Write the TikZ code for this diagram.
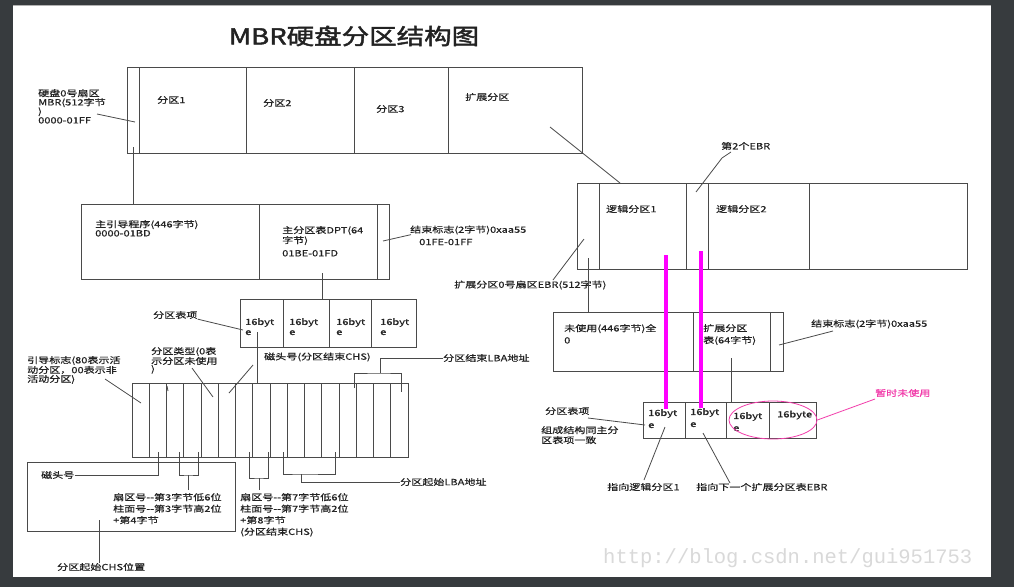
\documentclass[tikz,border=0pt]{standalone}
\usepackage{fontspec}
\usetikzlibrary{shapes.geometric}
\newfontfamily\cjk[FakeStretch=1.3,FakeBold=0.6]{Noto Sans CJK SC}
\newfontfamily\cjktitle[FakeStretch=1.25,FakeBold=2]{Noto Sans CJK SC}
\newfontfamily\wmfont{Liberation Mono}
\definecolor{framegray}{HTML}{373B3E}
\definecolor{ink}{HTML}{222222}
\definecolor{rulegray}{HTML}{4A4A4A}
\definecolor{hotpink}{HTML}{FF00FF}
\definecolor{notepink}{HTML}{F23CAA}
\definecolor{markgray}{HTML}{D9D9D9}

\begin{document}
\begin{tikzpicture}[x=1pt, y=-1pt,
  box/.style={draw=rulegray, line width=1pt, inner sep=0pt, outer sep=0pt, anchor=north west},
  txt/.style={font=\cjk\fontsize{8.5}{9}\selectfont, text=ink, inner sep=0pt, align=left, anchor=west},
  tight/.style={txt, anchor=north west, font=\cjk\fontsize{8.5}{7.8}\selectfont},
  loose/.style={txt, anchor=north west, font=\cjk\fontsize{8.5}{11.5}\selectfont},
  lead/.style={draw=rulegray, line width=0.8pt},
  hot/.style={draw=hotpink, line width=4pt}]
\useasboundingbox (0,0) rectangle (1014,587);
\fill[framegray] (0,0) rectangle (1014,587);
\fill[white] (13,5) rectangle (991,577);
\draw[gray!60, line width=1.5pt] (13,5.5) -- (991,5.5);

\node[font=\cjktitle\fontsize{22}{24}\selectfont, text=ink, inner sep=0pt] (title) at (354,36) {MBR硬盘分区结构图};

% whole disk
\foreach \n/\a/\b in {0/127/139,1/139/246,2/246/354,3/354/448,4/448/582}
  \node[box, minimum width={(\b-\a)*1pt}, minimum height=86pt] (mbr\n) at (\a,67) {};
\node[txt] (p1lbl) at (157,100) {分区1};
\node[txt] (p2lbl) at (263,103) {分区2};
\node[txt] (p3lbl) at (376,109) {分区3};
\node[txt] (extplbl) at (465,97) {扩展分区};
\node[txt, anchor=north west] (disklbl) at (38,89) {硬盘0号扇区\\MBR(512字节\\)\\0000-01FF};
\coordinate (disklead) at (97,114);
\coordinate (diskpt) at (135,122);
\draw[lead] (disklead) -- (diskpt);

% MBR sector
\foreach \n/\a/\b in {1/81/259,2/259/377,3/377/389}
  \node[box, minimum width={(\b-\a)*1pt}, minimum height=75pt] (boot\n) at (\a,204) {};
\coordinate (mbrtap) at (133,147);
\draw[lead] (mbrtap) -- (mbrtap |- boot1.north);
\node[txt, anchor=north west] (bootlbl) at (95,220) {主引导程序(446字节)\\0000-01BD};
\node[txt, anchor=north west] (dptlbl) at (282,226) {主分区表DPT(64\\[1pt]字节)\\[4pt]01BE-01FD};
\node[txt] (endlbl) at (410,230) {结束标志(2字节)0xaa55};
\node[txt] (endaddr) at (419,242) {01FE-01FF};
\coordinate (endpt) at (383,241);
\draw[lead] (endpt) -- ([xshift=1pt]endlbl.south west);

% partition table
\foreach \n/\a/\b in {1/240/283,2/283/329,3/329/371,4/371/416}
  \node[box, minimum width={(\b-\a)*1pt}, minimum height=48pt] (dpt\n) at (\a,299) {};
\coordinate (dpttap) at (322,273);
\draw[lead] (dpttap) -- (dpttap |- dpt1.north);
\foreach \n/\x in {1/245,2/289,3/336,4/380}
  \node[txt, anchor=north west, font=\cjk\fontsize{8.5}{10}\selectfont] (dptt\n) at (\x,318) {16byt\\e};
\node[txt] (tablbl) at (153,315) {分区表项};
\coordinate (tabpt) at (243,330);
\draw[lead] (tablbl.south east) -- (tabpt);

% 16 bytes of one entry
\foreach \i in {1,...,16}
  \node[box, minimum width=17.25pt, minimum height=74pt] (ent\i) at ({132+(\i-1)*17.25},383) {};
\coordinate (enttap) at (257,332);
\draw[lead] (enttap) -- (enttap |- ent1.north);
\node[tight] (bootflag) at (27,356) {引导标志(80表示活\\动分区，00表示非\\活动分区)};
\coordinate (bootflagpt) at (141,403);
\draw[lead] (105,379) -- (bootflagpt);
\node[tight] (typelbl) at (151,347) {分区类型(0表\\示分区未使用\\)};
\coordinate (typept) at (213,397);
\draw[lead] (192,368) -- (typept);
\draw[lead] (167,386) -- (168,391);
\node[txt] (headendlbl) at (264,357) {磁头号(分区结束CHS)};
\coordinate (headendpt) at (229,393);
\draw[lead] (253,365) -- (headendpt);
\node[txt] (lbaendlbl) at (443,358) {分区结束LBA地址};
\coordinate (lbaknee) at (380,373);
\coordinate (lbaL) at (354,388);
\coordinate (lbaR) at (401,392);
\draw[lead] (lbaendlbl.west) -| (lbaknee);
\draw[lead] (lbaL) |- (lbaknee) -| (lbaR);

% under the entry
\node[box, minimum width=208pt, minimum height=69pt] (chsbox) at (27,462) {};
\node[txt] (headlbl) at (41,475) {磁头号};
\coordinate (headtap) at (158,452);
\draw[lead] (headlbl.east) -| (headtap);
\coordinate (chsmid) at (188,475);
\draw[lead] (179,452) |- (chsmid) -| (198,452);
\draw[lead] (chsmid) -- ++(0,15);
\node[loose] (chsinfo) at (113,493) {扇区号--第3字节低6位\\柱面号--第3字节高2位\\+第4字节};
\node[txt] (chsposlbl) at (57,567) {分区起始CHS位置};
\coordinate (chstap) at (99,520);
\draw[lead] (chstap) -- (chstap |- chsposlbl.north);
\coordinate (chsendmid) at (259,478);
\draw[lead] (249,452) |- (chsendmid) -| (268,452);
\draw[lead] (chsendmid) -- ++(0,12);
\node[loose] (chsendinfo) at (240,493) {扇区号--第7字节低6位\\柱面号--第7字节高2位\\+第8字节\\(分区结束CHS)};
\coordinate (lbastartmid) at (301,474);
\draw[lead] (283,452) |- (lbastartmid) -| (335,452);
\node[txt] (lbastartlbl) at (400,482) {分区起始LBA地址};
\draw[lead] (lbastartmid) |- (lbastartlbl.west);

% extended partition
\foreach \n/\a/\b in {0/577/599,1/599/686,2/686/708,3/708/809,4/809/967}
  \node[box, minimum width={(\b-\a)*1pt}, minimum height=86pt] (log\n) at (\a,183) {};
\node[txt] (log1lbl) at (606,209) {逻辑分区1};
\node[txt] (log2lbl) at (716,209) {逻辑分区2};
\coordinate (exttap) at (550,127);
\coordinate (extpt) at (620,183);
\draw[lead] (exttap) -- (extpt);
\node[txt] (ebr2lbl) at (721,146) {第2个EBR};
\coordinate (ebr2pt) at (696,192);
\draw[lead] (731,152) -- (722,158) -- (ebr2pt);
\node[txt] (ebr0lbl) at (454,285) {扩展分区0号扇区EBR(512字节)};
\coordinate (ebr0pt) at (584,239);
\draw[lead] (553,280) -- (ebr0pt);

% EBR sector
\foreach \n/\a/\b in {1/553/693,2/693/770,3/770/783}
  \node[box, minimum width={(\b-\a)*1pt}, minimum height=59pt] (ebr\n) at (\a,312) {};
\coordinate (ebrtap) at (588,258);
\draw[lead] (ebrtap) -- (ebrtap |- ebr1.north);
\node[txt, anchor=north west, font=\cjk\fontsize{8.5}{12}\selectfont] (freelbl) at (564,324) {未使用(446字节)全\\0};
\node[txt, anchor=north west, font=\cjk\fontsize{8.5}{12}\selectfont] (ebrtablbl) at (703,324) {扩展分区\\表(64字节)};
\node[txt] (ebrendlbl) at (811,324) {结束标志(2字节)0xaa55};
\coordinate (ebrendpt) at (779,345);
\draw[lead] (ebrendpt) -- (833,331);

% EBR table
\foreach \n/\a/\b in {1/643/685,2/685/726,3/726/769,4/769/816}
  \node[box, minimum width={(\b-\a)*1pt}, minimum height=36pt] (slot\n) at (\a,402) {};
\coordinate (slottap) at (731,358);
\draw[lead] (slottap) -- (slottap |- slot1.north);
\foreach \n/\x/\y in {1/648/409,2/690/408,3/733/412}
  \node[txt, anchor=north west, font=\cjk\fontsize{8.5}{12}\selectfont] (slott\n) at (\x,\y) {16byt\\e};
\node[txt] (slott4) at (777,415) {16byte};
\node[draw=notepink, line width=0.8pt, ellipse, minimum width=88pt, minimum height=38pt] (unused) at (773,420) {};
\node[txt, text=notepink] (notelbl) at (875,393) {暂时未使用};
\coordinate (notept) at (875,399);
\draw[notepink, line width=0.8pt] (unused.east) -- (notept);
\node[txt] (etablbl) at (545,411) {分区表项};
\coordinate (etabpt) at (645,425);
\draw[lead] (588,418) -- (etabpt);
\node[txt, anchor=north west, font=\cjk\fontsize{8.5}{10}\selectfont] (samelbl) at (541,426) {组成结构同主分\\区表项一致};
\node[txt] (to1lbl) at (607,487) {指向逻辑分区1};
\coordinate (to1pt) at (665,427);
\draw[lead] (644,480) -- (to1pt);
\node[txt] (tonextlbl) at (696,487) {指向下一个扩展分区表EBR};
\coordinate (tonextpt) at (703,433);
\draw[lead] (730,483) -- (tonextpt);

% magenta marks
\coordinate (hotA) at (666,255);
\coordinate (hotB) at (701,251);
\draw[hot] (hotA) -- (hotA |- slott1.north);
\draw[hot] (hotB) -- (hotB |- slott2.north);

\node[font=\wmfont\fontsize{20.5}{22}\selectfont, text=markgray, inner sep=0pt, anchor=west] (mark) at (603,558) {http://blog.csdn.net/gui951753};
\end{tikzpicture}
\end{document}
